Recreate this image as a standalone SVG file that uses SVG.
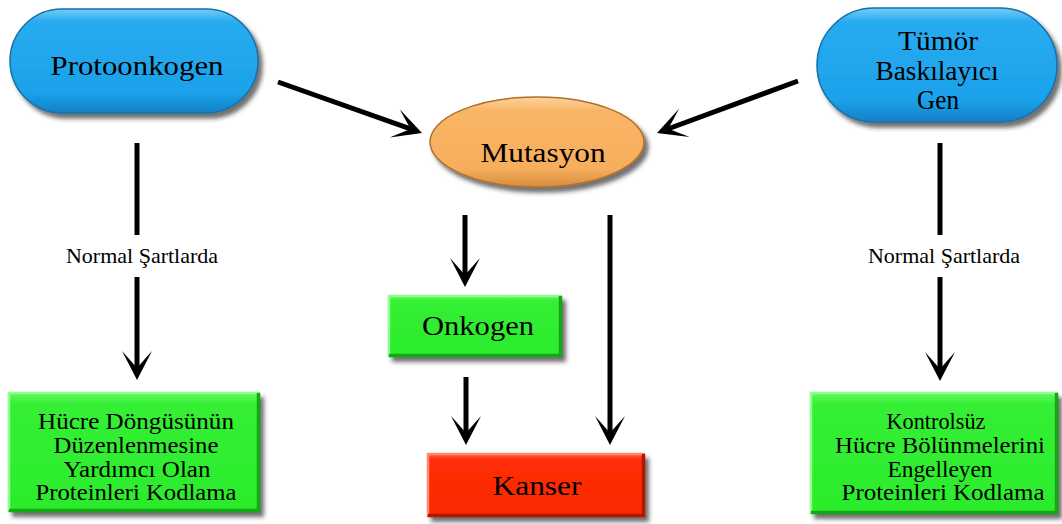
<svg xmlns="http://www.w3.org/2000/svg" width="1062" height="524" viewBox="0 0 1062 524">
<style>
text{font-family:"Liberation Serif","Times New Roman",serif;fill:#000;text-anchor:middle}
.t{font-size:27px}
.s{font-size:22.5px}
.lbl{font-size:22px}
.ln{stroke:#000;stroke-width:5;fill:none}
.arr{marker-end:url(#ah)}
.pill{fill:url(#gBlue);stroke:#1670aa;stroke-width:1.5;filter:url(#sh)}
.ell{fill:url(#gOrange);stroke:#b0702a;stroke-width:1.5;filter:url(#sh)}
.gbox{fill:url(#gGreen);filter:url(#sh)}
.rbox{fill:url(#gRed);filter:url(#sh)}
.hiG{stroke:#8dff8d;stroke-width:2.5;fill:none}
.loG{stroke:#14a814;stroke-width:3.5;fill:none}
.hiR{stroke:#ff8a70;stroke-width:2.5;fill:none}
.loR{stroke:#b01800;stroke-width:3.5;fill:none}
</style>
<defs>
<filter id="sh" x="-10%" y="-10%" width="125%" height="130%">
<feDropShadow dx="4" dy="5" stdDeviation="2.2" flood-color="#222" flood-opacity="0.65"/>
</filter>
<linearGradient id="gBlue" x1="0" y1="0" x2="0" y2="1">
<stop offset="0" stop-color="#74cdf6"/>
<stop offset="0.12" stop-color="#29abf0"/>
<stop offset="0.8" stop-color="#1ba2ea"/>
<stop offset="1" stop-color="#1480c6"/>
</linearGradient>
<linearGradient id="gOrange" x1="0" y1="0" x2="0" y2="1">
<stop offset="0" stop-color="#fcd3a0"/>
<stop offset="0.15" stop-color="#f9b566"/>
<stop offset="0.8" stop-color="#f7ae5c"/>
<stop offset="1" stop-color="#d68c3e"/>
</linearGradient>
<linearGradient id="gGreen" x1="0" y1="0" x2="0" y2="1">
<stop offset="0" stop-color="#66f766"/>
<stop offset="0.1" stop-color="#35ef35"/>
<stop offset="1" stop-color="#2bec2b"/>
</linearGradient>
<linearGradient id="gRed" x1="0" y1="0" x2="0" y2="1">
<stop offset="0" stop-color="#ff6a48"/>
<stop offset="0.1" stop-color="#ff2e08"/>
<stop offset="1" stop-color="#fa2800"/>
</linearGradient>
<marker id="ah" markerUnits="userSpaceOnUse" viewBox="-32 -17 34 34" markerWidth="34" markerHeight="34" refX="-10" refY="0" orient="auto" overflow="visible">
<path d="M0,0 L-29,-15 Q-19,-6 -12,0 Q-19,6 -29,15 Z" fill="#000"/>
</marker>
</defs>

<g id="connectors">
<line class="ln arr" x1="278" y1="82" x2="412.6" y2="129.7"/>
<line class="ln arr" x1="798" y1="81" x2="666.4" y2="129.5"/>
<line class="ln" x1="137" y1="143" x2="137" y2="235"/>
<line class="ln arr" x1="137" y1="277" x2="137" y2="370"/>
<line class="ln" x1="940" y1="143" x2="940" y2="235"/>
<line class="ln arr" x1="940" y1="277" x2="940" y2="371"/>
<line class="ln arr" x1="465" y1="215" x2="465" y2="277"/>
<line class="ln arr" x1="466" y1="377" x2="466" y2="435"/>
<line class="ln arr" x1="610" y1="215" x2="610" y2="435"/>
<text class="lbl" x="142" y="263">Normal Şartlarda</text>
<text class="lbl" x="944" y="263">Normal Şartlarda</text>
</g>

<g id="protoonkogen">
<rect class="pill" x="10" y="9" width="248" height="104" rx="52"/>
<text class="t" x="137" y="75" textLength="173" lengthAdjust="spacingAndGlyphs">Protoonkogen</text>
</g>

<g id="tumor">
<rect class="pill" x="817" y="8" width="240" height="114" rx="57"/>
<text class="t" x="938" y="50" textLength="80" lengthAdjust="spacingAndGlyphs">Tümör</text>
<text class="t" x="937" y="80" textLength="123" lengthAdjust="spacingAndGlyphs">Baskılayıcı</text>
<text class="t" x="938" y="109" textLength="42" lengthAdjust="spacingAndGlyphs">Gen</text>
</g>

<g id="mutasyon">
<ellipse class="ell" cx="537" cy="142" rx="107" ry="45"/>
<text class="t" x="543" y="162" textLength="125" lengthAdjust="spacingAndGlyphs">Mutasyon</text>
</g>

<g id="onkogen">
<rect class="gbox" x="388" y="295" width="174" height="62"/>
<path class="hiG" d="M389,356 V296 H561"/>
<path class="loG" d="M389,355.5 H560.5 V296"/>
<text class="t" x="478" y="335" textLength="112" lengthAdjust="spacingAndGlyphs">Onkogen</text>
</g>

<g id="kanser">
<rect class="rbox" x="427" y="453" width="218" height="64"/>
<path class="hiR" d="M428,516 V454 H644"/>
<path class="loR" d="M428,515.5 H643.5 V454"/>
<text class="t" x="537" y="495" textLength="89" lengthAdjust="spacingAndGlyphs">Kanser</text>
</g>

<g id="hucre-dongusu">
<rect class="gbox" x="8" y="392" width="252" height="120"/>
<path class="hiG" d="M9,511 V393 H259"/>
<path class="loG" d="M9,510.5 H258.5 V393"/>
<text class="s" x="136" y="429" textLength="196" lengthAdjust="spacingAndGlyphs">Hücre Döngüsünün</text>
<text class="s" x="136" y="453" textLength="165" lengthAdjust="spacingAndGlyphs">Düzenlenmesine</text>
<text class="s" x="137" y="477" textLength="147" lengthAdjust="spacingAndGlyphs">Yardımcı Olan</text>
<text class="s" x="136" y="500" textLength="201" lengthAdjust="spacingAndGlyphs">Proteinleri Kodlama</text>
</g>

<g id="kontrolsuz">
<rect class="gbox" x="810" y="392" width="248" height="122"/>
<path class="hiG" d="M811,513 V393 H1057"/>
<path class="loG" d="M811,512.5 H1056.5 V393"/>
<text class="s" x="936" y="429" textLength="99" lengthAdjust="spacingAndGlyphs">Kontrolsüz</text>
<text class="s" x="940" y="453" textLength="210" lengthAdjust="spacingAndGlyphs">Hücre Bölünmelerini</text>
<text class="s" x="940" y="477" textLength="105" lengthAdjust="spacingAndGlyphs">Engelleyen</text>
<text class="s" x="943" y="500" textLength="203" lengthAdjust="spacingAndGlyphs">Proteinleri Kodlama</text>
</g>
</svg>
